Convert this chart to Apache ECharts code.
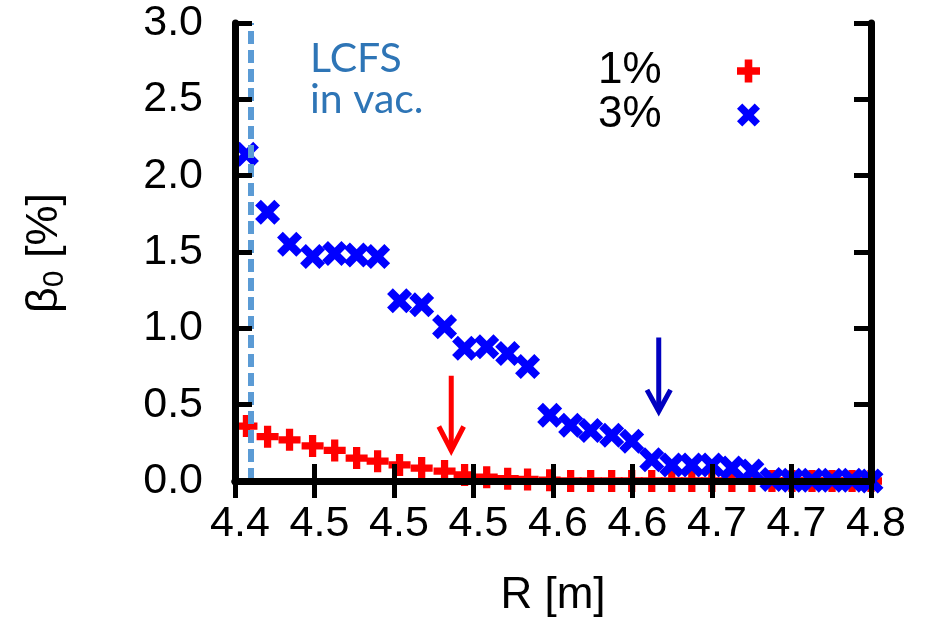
<!DOCTYPE html>
<html><head><meta charset="utf-8">
<script src="https://cdn.jsdelivr.net/npm/echarts@6/dist/echarts.min.js"></script>
<style>html,body{margin:0;padding:0;background:#fff}#c{width:927px;height:623px}</style>
</head><body><div id="c"></div>
<script>
// ---- data ----
const R = [4.4072, 4.4205, 4.4343, 4.4488, 4.4627, 4.4765, 4.4897, 4.5035, 4.5174, 4.5318,
           4.5444, 4.5583, 4.5715, 4.5840, 4.5979, 4.6111, 4.6237, 4.6369, 4.6495, 4.6621,
           4.6747, 4.6873, 4.6999, 4.7125, 4.7251, 4.7377, 4.7503, 4.7629, 4.7755, 4.7881, 4.8000];
const beta1 = [0.36, 0.29, 0.27, 0.23, 0.20, 0.15, 0.13, 0.105, 0.085, 0.065,
               0.04, 0.025, 0.015, 0.01, 0.005, 0.0, 0.0, 0.0, 0.0, 0.0,
               0.0, 0.0, 0.0, 0.0, 0.0, 0.0, 0.0, 0.0, 0.0, 0.0, 0.0];
const beta3 = [2.14, 1.76, 1.55, 1.47, 1.49, 1.48, 1.47, 1.18, 1.155, 1.01,
               0.87, 0.88, 0.835, 0.75, 0.43, 0.365, 0.33, 0.30, 0.26, 0.14,
               0.105, 0.105, 0.105, 0.085, 0.065, 0.01, 0.005, 0.005, 0.005, 0.005, 0.0];
const seriesNames = ['1%', '3%'];
const xTickLabels = ['4.4', '4.5', '4.5', '4.5', '4.6', '4.6', '4.7', '4.7', '4.8'];
const yTickLabels = ['0.0', '0.5', '1.0', '1.5', '2.0', '2.5', '3.0'];
const lcfsR = 4.4065;
const arrowRed = [4.536, 0.69, 0.20];   // x, top, tip
const arrowBlue = [4.6665, 0.94, 0.457];

// ---- shapes / styles ----
const plusPath = 'path://M3.35,0H6.65V3.35H10V6.65H6.65V10H3.35V6.65H0V3.35H3.35Z';
const crossPath = 'path://M2.3,0L5,2.7L7.7,0L10,2.3L7.3,5L10,7.7L7.7,10L5,7.3L2.3,10L0,7.7L2.7,5L0,2.3Z';
const FONT = "'Liberation Sans', Arial, sans-serif";
const X0 = 4.4, XSTEP = 0.05;

function arrowSeries(a, color, dx, dy) {
  const common = {type: 'line', symbol: 'none', silent: true, z: 3, xAxisIndex: 0, yAxisIndex: 0,
    lineStyle: {color: color, width: 5, join: 'miter', cap: 'butt'}, animation: false};
  return [
    Object.assign({}, common, {data: [[a[0], a[1]], [a[0], a[2]]]}),
    Object.assign({}, common, {lineStyle: {color: color, width: 5, join: 'miter'},
      data: [[a[0] - dx, a[2] + dy], [a[0], a[2]], [a[0] + dx, a[2] + dy]]})
  ];
}

const axisLine = {show: true, lineStyle: {color: '#000', width: 7}};
const axisTick = {show: true, inside: true, length: 17, lineStyle: {color: '#000', width: 5}};

const chart = echarts.init(document.getElementById('c'), null, {renderer: 'canvas'});
chart.setOption({
  animation: false,
  backgroundColor: '#fff',
  grid: {left: 235, right: 56, top: 23, bottom: 140, containLabel: false},
  xAxis: [{
    type: 'value', min: X0, max: 4.8, interval: XSTEP, position: 'bottom', z: 10,
    axisLine: axisLine, axisTick: axisTick, splitLine: {show: false},
    axisLabel: {margin: 22, fontSize: 43, fontFamily: FONT, color: '#000', padding: [0, 0, 0, 10],
      formatter: v => xTickLabels[Math.round((v - X0) / XSTEP)] || ''},
    name: 'R [m]', nameLocation: 'middle', nameGap: 93,
    nameTextStyle: {fontSize: 44, fontFamily: FONT, color: '#000'}
  }, {
    type: 'value', min: X0, max: 4.8, interval: XSTEP, position: 'top', z: 10,
    axisLine: axisLine, axisTick: axisTick, splitLine: {show: false}, axisLabel: {show: false}
  }],
  yAxis: [{
    type: 'value', min: 0, max: 3, interval: 0.5, position: 'left', z: 10,
    axisLine: axisLine, axisTick: axisTick, splitLine: {show: false},
    axisLabel: {margin: 32, fontSize: 43, fontFamily: FONT, color: '#000',
      formatter: v => yTickLabels[Math.round(v / 0.5)] || ''}
  }, {
    type: 'value', min: 0, max: 3, interval: 0.5, position: 'right', z: 10,
    axisLine: axisLine, axisTick: axisTick, splitLine: {show: false}, axisLabel: {show: false}
  }],
  legend: {
    orient: 'vertical', left: 593, top: 44, align: 'right', selectedMode: false,
    itemWidth: 23, itemHeight: 23, itemGap: 0,
    textStyle: {fontSize: 44, fontFamily: FONT, color: '#000',
      rich: {a: {fontSize: 44, fontFamily: FONT, width: 134, align: 'left', lineHeight: 46}}},
    formatter: n => '{a|' + n + '}',
    data: [{name: seriesNames[0], icon: plusPath}, {name: seriesNames[1], icon: crossPath}]
  },
  graphic: [
    {type: 'text', x: 45, y: 253, rotation: Math.PI / 2, z: 20,
     style: {text: '{b|β}{s|0}{b| [%]}', align: 'center', verticalAlign: 'middle',
       rich: {b: {fontSize: 45, fontFamily: FONT, fill: '#000', lineHeight: 50},
              s: {fontSize: 30, fontFamily: FONT, fill: '#000', lineHeight: 30, verticalAlign: 'bottom'}}}},
    {type: 'text', x: 310, y: 38, z: 20,
     style: {text: 'LCFS\nin vac.', fontSize: 41, fontFamily: 'Lato, Open Sans, sans-serif',
       fill: '#2e75b6', lineHeight: 41, align: 'left', verticalAlign: 'top'}}
  ],
  series: [
    {name: seriesNames[0], type: 'scatter', symbol: plusPath, symbolSize: 22, z: 2, clip: false,
     itemStyle: {color: '#ff0000', opacity: 1}, data: R.map((r, i) => [r, beta1[i]])},
    {name: seriesNames[1], type: 'scatter', symbol: crossPath, symbolSize: 25, z: 2, clip: false,
     itemStyle: {color: '#0000ff', opacity: 1}, data: R.map((r, i) => [r, beta3[i]])},
    {name: 'lcfs', type: 'scatter', data: [], z: 4, silent: true,
     markLine: {silent: true, symbol: 'none', animation: false, label: {show: false},
       lineStyle: {color: '#5b9bd5', width: 6, type: [13, 6]},
       data: [{xAxis: lcfsR}]}},
    ...arrowSeries(arrowRed, '#ff0000', 0.0078, 0.157),
    ...arrowSeries(arrowBlue, '#0000c0', 0.0074, 0.14)
  ]
});
</script></body></html>
